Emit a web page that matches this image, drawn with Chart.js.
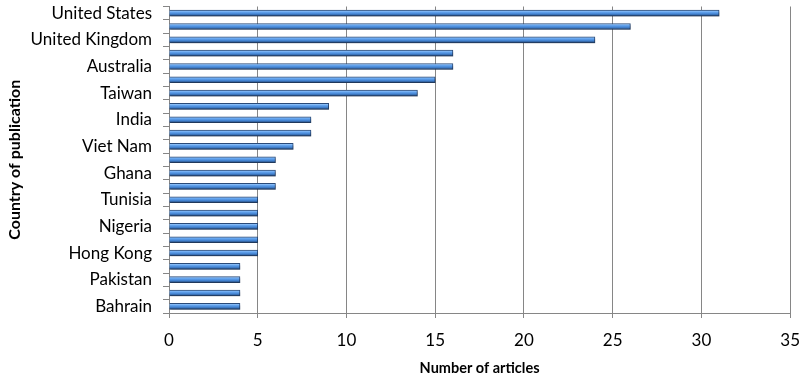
<!DOCTYPE html>
<html>
<head>
<meta charset="utf-8">
<script src="https://cdn.jsdelivr.net/npm/chart.js@4/dist/chart.umd.min.js"></script>
<style>
html,body{margin:0;padding:0;background:#fff;overflow:hidden;}
#wrap{width:805px;height:381px;position:relative;overflow:hidden;}
#c{position:absolute;left:0;top:-13px;}
</style>
</head>
<body>
<div id="wrap"><canvas id="c" width="814" height="394"></canvas></div>
<script>
const categories = ["United States","","United Kingdom","","Australia","","Taiwan","","India","","Viet Nam","","Ghana","","Tunisia","","Nigeria","","Hong Kong","","Pakistan","","Bahrain"];
const articles = [31,26,24,16,16,15,14,9,8,8,7,6,6,6,5,5,5,5,5,4,4,4,4];
const xTicks = [0,5,10,15,20,25,30,35];
const xTitle = "Number of articles";
const yTitle = "Country of publication";

const FONT = "Lato, 'Open Sans', 'Liberation Sans', sans-serif";

function barFill(ctx){
  const chart = ctx.chart;
  if (!chart.chartArea || !chart.scales.y) return '#4F81BD';
  const y = chart.scales.y.getPixelForValue(ctx.dataIndex);
  const g = chart.ctx.createLinearGradient(0, y-3, 0, y+3);
  g.addColorStop(0, '#B5DAFF');
  g.addColorStop(0.3, '#66A6F0');
  g.addColorStop(0.65, '#4282D0');
  g.addColorStop(1, '#22406B');
  return g;
}

const shadowPlugin = {
  id: 'barShadow',
  beforeDatasetsDraw(chart){
    const c = chart.ctx;
    c.save();
    c.shadowColor = 'rgba(0,0,0,0.25)';
    c.shadowBlur = 2;
    c.shadowOffsetX = 1;
    c.shadowOffsetY = 2;
  },
  afterDatasetsDraw(chart){ chart.ctx.restore(); }
};

new Chart(document.getElementById('c'), {
  type: 'bar',
  data: {
    labels: categories,
    datasets: [{
      data: articles,
      backgroundColor: barFill,
      borderColor: '#2A4A78',
      borderWidth: 1,
      barThickness: 6
    }]
  },
  options: {
    indexAxis: 'y',
    responsive: false,
    animation: false,
    devicePixelRatio: 1,
    layout: { padding: { left: 0, right: 5, top: 0, bottom: 0 } },
    plugins: { legend: { display: false }, tooltip: { enabled: false } },
    scales: {
      x: {
        min: 0, max: 35,
        afterBuildTicks: s => { s.ticks = xTicks.map(v => ({ value: v })); },
        afterFit: s => { s.height = 68; },
        grid: { color: '#868686', lineWidth: 1, tickLength: 5, drawTicks: true },
        border: { color: '#868686', width: 1 },
        ticks: { color: '#000', font: { family: FONT, size: 17, lineHeight: 1 }, padding: 14, maxRotation: 0 },
        title: { display: true, text: xTitle, color: '#000', font: { family: FONT, size: 14.5, weight: 'bold' }, padding: { top: 4, bottom: 4 } }
      },
      y: {
        afterFit: s => { s.width = 169; },
        grid: { display: true, offset: true, drawOnChartArea: false, color: '#868686', tickLength: 6 },
        border: { color: '#868686', width: 1 },
        ticks: { autoSkip: false, color: '#000', font: { family: FONT, size: 17, lineHeight: 1 }, padding: 11 },
        title: { display: true, text: yTitle, color: '#000', font: { family: FONT, size: 16, weight: 'bold' }, padding: { top: 5, bottom: 0 } }
      }
    }
  },
  plugins: [shadowPlugin]
});
</script>
</body>
</html>
